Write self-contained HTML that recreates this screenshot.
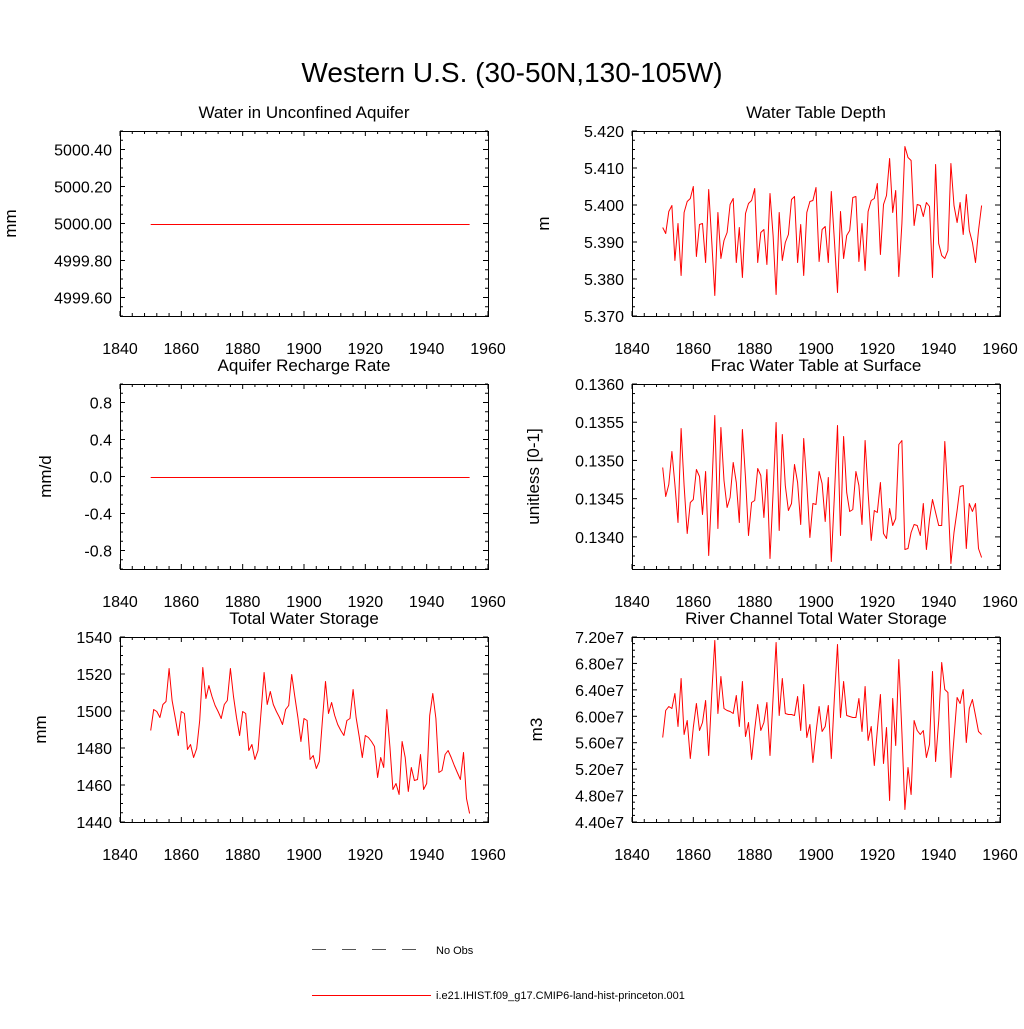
<!DOCTYPE html>
<html><head><meta charset="utf-8"><style>
body{margin:0;background:#fff;}
svg text{font-family:"Liberation Sans",sans-serif;fill:#000;}
</style></head><body>
<svg id="fig" width="1024" height="1024" xmlns="http://www.w3.org/2000/svg">
<text x="512" y="82" font-size="28" text-anchor="middle">Western U.S. (30-50N,130-105W)</text>
<g>
<line x1="312" y1="949.5" x2="420" y2="949.5" stroke="#555" stroke-width="1" stroke-dasharray="14,16"/>
<text x="436" y="954" font-size="11">No Obs</text>
<line x1="312" y1="995.5" x2="431" y2="995.5" stroke="#f00" stroke-width="1"/>
<text x="436" y="999" font-size="11">i.e21.IHIST.f09_g17.CMIP6-land-hist-princeton.001</text>
</g>
</svg>
<script>
const years = [];
for (let y = 1850; y <= 1954; y++) years.push(y);
const xTickLabels = ["1840","1860","1880","1900","1920","1940","1960"];
const aquiferValues = years.map(() => 5000.0);
const rechargeValues = years.map(() => 0.0);
const wtdValues = [5.3940,5.3924,5.3985,5.4000,5.3851,5.3952,5.3811,5.3982,5.4012,5.4018,5.4051,5.3862,5.3948,5.3952,5.3847,5.4042,5.3905,5.3757,5.3982,5.3856,5.3905,5.3928,5.4004,5.4020,5.3845,5.3940,5.3806,5.3978,5.4006,5.4013,5.4047,5.3847,5.3928,5.3934,5.3840,5.4033,5.3919,5.3760,5.3980,5.3851,5.3901,5.3922,5.4015,5.4024,5.3847,5.3950,5.3812,5.3980,5.4012,5.4014,5.4049,5.3850,5.3934,5.3942,5.3845,5.4039,5.3905,5.3766,5.3985,5.3856,5.3919,5.3933,5.4021,5.4024,5.3850,5.3952,5.3824,5.3985,5.4014,5.4018,5.4059,5.3867,5.4002,5.4027,5.4126,5.3982,5.4041,5.3807,5.3951,5.4159,5.4130,5.4121,5.3945,5.4004,5.4000,5.3970,5.4008,5.3997,5.3806,5.4111,5.3896,5.3865,5.3858,5.3878,5.4114,5.4000,5.3955,5.4008,5.3922,5.4030,5.3933,5.3901,5.3845,5.3933,5.4000];
const fracValues = [0.13492,0.13454,0.13469,0.13512,0.13469,0.13420,0.13542,0.13468,0.13405,0.13446,0.13450,0.13489,0.13480,0.13430,0.13486,0.13376,0.13460,0.13559,0.13411,0.13544,0.13474,0.13439,0.13452,0.13498,0.13472,0.13420,0.13541,0.13478,0.13403,0.13445,0.13448,0.13490,0.13481,0.13426,0.13489,0.13372,0.13459,0.13550,0.13409,0.13535,0.13468,0.13435,0.13444,0.13495,0.13472,0.13417,0.13530,0.13470,0.13400,0.13444,0.13443,0.13486,0.13471,0.13421,0.13478,0.13369,0.13455,0.13546,0.13403,0.13532,0.13459,0.13434,0.13437,0.13486,0.13468,0.13417,0.13527,0.13459,0.13396,0.13435,0.13433,0.13472,0.13405,0.13398,0.13438,0.13416,0.13425,0.13522,0.13527,0.13384,0.13385,0.13406,0.13417,0.13416,0.13403,0.13444,0.13384,0.13424,0.13450,0.13433,0.13415,0.13416,0.13525,0.13455,0.13366,0.13406,0.13435,0.13467,0.13468,0.13385,0.13444,0.13434,0.13444,0.13385,0.13374];
const twsValues = [1490,1501,1500,1497,1504,1505.5,1523,1506,1497,1487,1500,1499,1479.6,1482,1475,1480,1495,1524,1507,1514,1508,1503,1500,1496,1504,1506,1523,1508,1497,1487,1500,1499,1479,1482,1474,1479,1500,1521,1504,1511,1504,1500,1497,1493,1501,1503,1520,1508,1497,1484,1496,1495,1474,1476,1469,1473,1495,1516,1499,1505,1498,1493,1490,1487,1495,1496,1512,1497,1486.5,1475,1487,1486,1484,1481,1464.5,1475,1470,1501,1481,1458,1461,1455,1484,1475,1457,1470,1462.5,1463,1477,1458,1461,1498,1510,1496,1467,1468,1477,1479,1475,1471,1467,1463,1478,1453,1445];
const riverValues = [5.68,6.10,6.15,6.12,6.35,5.86,6.58,5.73,5.94,5.37,5.84,6.20,5.80,5.91,6.24,5.42,6.34,7.16,6.05,6.61,6.12,6.09,6.08,6.05,6.32,5.85,6.54,5.70,5.91,5.36,5.81,6.19,5.79,5.91,6.21,5.41,6.29,7.12,6.02,6.58,6.05,6.04,6.03,6.02,6.30,5.80,6.49,5.68,5.89,5.31,5.76,6.15,5.77,5.86,6.17,5.37,6.29,7.10,5.99,6.54,6.02,6.01,5.99,5.99,6.27,5.78,6.46,5.64,5.85,5.27,5.79,6.34,5.29,5.84,4.74,6.28,5.56,6.87,5.76,4.60,5.24,4.83,5.95,5.79,5.73,5.80,5.38,5.58,6.69,5.32,5.94,6.82,6.42,6.37,5.08,5.69,6.29,6.20,6.41,5.61,6.12,6.26,6.02,5.77,5.73];

const aquiferTicks = ["4999.60","4999.80","5000.00","5000.20","5000.40"];
const rechargeTicks = ["-0.8","-0.4","0.0","0.4","0.8"];
const wtdTicks = ["5.370","5.380","5.390","5.400","5.410","5.420"];
const fracTicks = ["0.1340","0.1345","0.1350","0.1355","0.1360"];
const twsTicks = ["1440","1460","1480","1500","1520","1540"];
const riverTicks = ["4.40e7","4.80e7","5.20e7","5.60e7","6.00e7","6.40e7","6.80e7","7.20e7"];

const NS = "http://www.w3.org/2000/svg";
const fig = document.getElementById("fig");
function mk(tag, attrs, parent) {
  const e = document.createElementNS(NS, tag);
  for (const k in attrs) e.setAttribute(k, attrs[k]);
  parent.appendChild(e);
  return e;
}

function panel(opt) {
  const L = opt.x0, R = opt.x0 + 368, T = opt.y0, B = opt.y0 + 185;
  const g = mk("g", {}, fig);
  
  
  const xs = yr => L + (yr - 1840) / 120 * (R - L);
  const ys = v => B - (v - opt.ymin) / (opt.ymax - opt.ymin) * (B - T);
  const fr = mk("rect", {x: L + 0.5, y: T + 0.5, width: R - L, height: B - T, fill: "none", stroke: "#000", "stroke-width": 1}, g);
  
  
  for (let yr = 1840; yr <= 1960; yr += 4) {
    const X = xs(yr), major = (yr - 1840) % 20 === 0, len = major ? 5 : 3;
    mk("line", {x1: X, y1: B, x2: X, y2: B - len, stroke: "#000"}, g);
    mk("line", {x1: X, y1: T, x2: X, y2: T + len, stroke: "#000"}, g);
  }
  xTickLabels.forEach((lab, i) => {
    const t = mk("text", {x: xs(1840 + i * 20), y: B + 38, "font-size": 16, "text-anchor": "middle"}, g);
    t.textContent = lab;
    
    
  });
  const step = opt.ystep, minor = step / 4;
  const start = Math.ceil((opt.ymin - 1e-9) / minor) * minor;
  for (let v = start; v <= opt.ymax + 1e-9; v += minor) {
    const k = Math.round((v - opt.tick0) / minor);
    const major = ((k % 4) + 4) % 4 === 0, len = major ? 5 : 3, Y = ys(v);
    mk("line", {x1: L, y1: Y, x2: L + len, y2: Y, stroke: "#000"}, g);
    mk("line", {x1: R, y1: Y, x2: R - len, y2: Y, stroke: "#000"}, g);
  }
  opt.ticks.forEach((lab, i) => {
    const t = mk("text", {x: L - 8, y: ys(opt.tick0 + i * step) + 6, "font-size": 16, "text-anchor": "end"}, g);
    t.textContent = lab;
    
    
  });
  const tt = mk("text", {x: (L + R) / 2, y: T - 13, "font-size": 17, "text-anchor": "middle"}, g);
  tt.textContent = opt.title;
  
  
  const yl = mk("text", {x: 0, y: 0, "font-size": 17, "text-anchor": "middle", transform: `translate(${opt.ylx},${(T + B) / 2}) rotate(-90)`}, g);
  yl.textContent = opt.ylabel;
  
  
  const pts = opt.values.map((v, i) => xs(years[i]).toFixed(1) + "," + (Math.round(ys(v)) + 0.5).toFixed(1)).join(" ");
  const pl = mk("polyline", {points: pts, fill: "none", stroke: "#f00", "stroke-width": 1, "stroke-linejoin": "round"}, g);
  
  
}

panel({name: "aquifer-panel", x0: 120, y0: 131, ymin: 4999.5, ymax: 5000.5, ystep: 0.2, tick0: 4999.6, ticks: aquiferTicks, title: "Water in Unconfined Aquifer", ylabel: "mm", ylx: 16, values: aquiferValues});
panel({name: "wtd-panel", x0: 632, y0: 131, ymin: 5.37, ymax: 5.42, ystep: 0.01, tick0: 5.37, ticks: wtdTicks, title: "Water Table Depth", ylabel: "m", ylx: 549, values: wtdValues});
panel({name: "recharge-panel", x0: 120, y0: 384, ymin: -1, ymax: 1, ystep: 0.4, tick0: -0.8, ticks: rechargeTicks, title: "Aquifer Recharge Rate", ylabel: "mm/d", ylx: 51, values: rechargeValues});
panel({name: "frac-panel", x0: 632, y0: 384, ymin: 0.13358, ymax: 0.1360, ystep: 0.0005, tick0: 0.1340, ticks: fracTicks, title: "Frac Water Table at Surface", ylabel: "unitless [0-1]", ylx: 539, values: fracValues});
panel({name: "tws-panel", x0: 120, y0: 637, ymin: 1440, ymax: 1540, ystep: 20, tick0: 1440, ticks: twsTicks, title: "Total Water Storage", ylabel: "mm", ylx: 46, values: twsValues});
panel({name: "river-panel", x0: 632, y0: 637, ymin: 4.4, ymax: 7.2, ystep: 0.4, tick0: 4.4, ticks: riverTicks, title: "River Channel Total Water Storage", ylabel: "m3", ylx: 542, values: riverValues});
</script>
</body></html>
